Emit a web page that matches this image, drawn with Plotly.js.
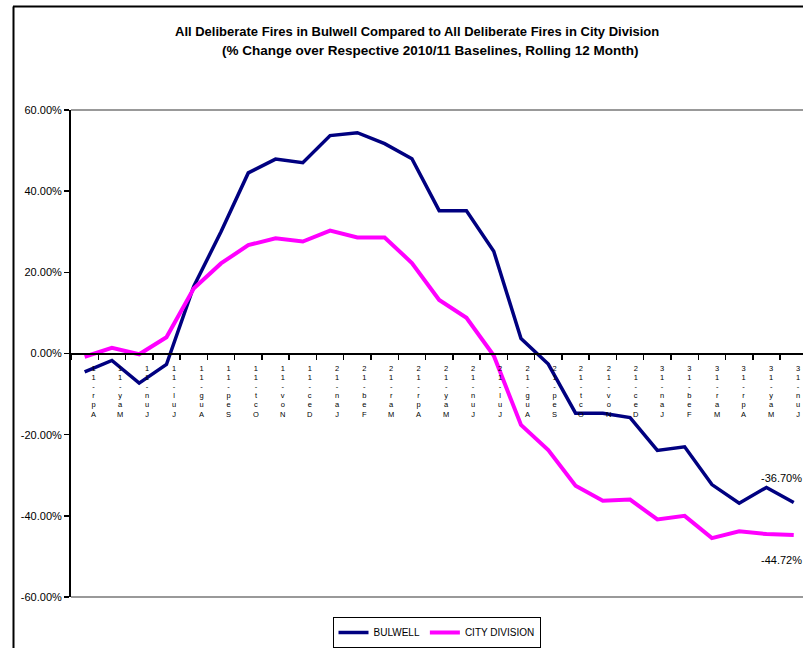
<!DOCTYPE html>
<html>
<head>
<meta charset="utf-8">
<script src="https://cdn.plot.ly/plotly-3.0.1.min.js"></script>
<style>
  html, body { margin: 0; padding: 0; background: #fff; }
  #chart { width: 803px; height: 648px; }
</style>
</head>
<body>
<div id="chart"></div>
<script>
// ---- Data ----
const months = ['Apr-11','May-11','Jun-11','Jul-11','Aug-11','Sep-11','Oct-11','Nov-11','Dec-11',
                'Jan-12','Feb-12','Mar-12','Apr-12','May-12','Jun-12','Jul-12','Aug-12','Sep-12',
                'Oct-12','Nov-12','Dec-12','Jan-13','Feb-13','Mar-13','Apr-13','May-13','Jun-13'];
const bulwell = [-4.5, -1.7, -7.3, -2.7, 16.5, 30.0, 44.5, 47.9, 47.0,
                 53.7, 54.4, 51.7, 48.0, 35.2, 35.2, 25.2, 3.7, -2.6,
                 -14.7, -14.7, -15.8, -23.9, -23.0, -32.3, -36.9, -33.0, -36.70];
const cityDivision = [-0.8, 1.4, -0.2, 4.0, 16.0, 22.2, 26.7, 28.4, 27.6,
                      30.3, 28.6, 28.6, 22.3, 13.2, 8.8, -0.5, -17.6, -23.8,
                      -32.6, -36.3, -36.0, -40.9, -40.0, -45.5, -43.8, -44.5, -44.72];
const yTickVals = [60, 40, 20, 0, -20, -40, -60];
const seriesNames = ['BULWELL', 'CITY DIVISION'];
const endLabels = ['-36.70%', '-44.72%'];
const titleLines = ['All Deliberate Fires in Bulwell Compared to All Deliberate Fires in City Division',
                    '(% Change over Respective 2010/11 Baselines, Rolling 12 Month)'];

// ---- Layout helpers (pixel geometry of the page) ----
const W = 803, H = 648, L = 71, T = 110, B = 51;
const plotW = W - L, plotH = H - T - B;
const px2paperX = p => (p - L) / plotW;
const px2paperY = p => (H - B - p) / plotH;
const FONT = 'Liberation Sans, Arial, sans-serif';

const x = months.map((_, i) => i);

const traces = [
  { x: x, y: bulwell, name: seriesNames[0], type: 'scatter', mode: 'lines',
    line: { color: '#000080', width: 3.5 } },
  { x: x, y: cityDivision, name: seriesNames[1], type: 'scatter', mode: 'lines',
    line: { color: '#FF00FF', width: 4 } }
];

const annotations = [];
// stacked-character category labels (upright characters, read bottom to top)
months.forEach((m, i) => {
  const stacked = m.split('').reverse()
    .map(c => '<span style="font-size:7.5px">' + c + '</span>').join('<br>');
  annotations.push({
    x: i, y: 0, xref: 'x', yref: 'y', text: stacked, showarrow: false,
    xanchor: 'center', yanchor: 'top', align: 'center',
    xshift: 8.5 - 4 * i / (months.length - 1),
    yshift: -8.5,
    font: { family: FONT, size: 7, color: '#000' }
  });
});
// end value labels
annotations.push({ x: months.length - 1, y: bulwell[bulwell.length - 1], xref: 'x', yref: 'y',
  text: endLabels[0], showarrow: false, xanchor: 'right', yanchor: 'middle', xshift: 10, yshift: 24,
  font: { family: FONT, size: 11, color: '#000' } });
annotations.push({ x: months.length - 1, y: cityDivision[cityDivision.length - 1], xref: 'x', yref: 'y',
  text: endLabels[1], showarrow: false, xanchor: 'right', yanchor: 'middle', xshift: 10, yshift: -25,
  font: { family: FONT, size: 11, color: '#000' } });
// title lines
annotations.push({ xref: 'paper', yref: 'paper', x: px2paperX(416.5), y: px2paperY(31.6),
  text: titleLines[0], showarrow: false, xanchor: 'center', yanchor: 'middle',
  font: { family: FONT, size: 13, color: '#000', weight: 'bold' } });
annotations.push({ xref: 'paper', yref: 'paper', x: px2paperX(429.5), y: px2paperY(51),
  text: titleLines[1], showarrow: false, xanchor: 'center', yanchor: 'middle',
  font: { family: FONT, size: 13.5, color: '#000', weight: 'bold' } });

const shapes = [
  // plot-area border (top and bottom)
  { type: 'line', xref: 'paper', yref: 'paper', x0: 0, x1: 1.02, y0: 1, y1: 1, line: { color: '#999', width: 2 } },
  { type: 'line', xref: 'paper', yref: 'paper', x0: 0, x1: 1.02, y0: 0, y1: 0, line: { color: '#999', width: 2 } },
  // chart-area border (top and left)
  { type: 'line', xref: 'paper', yref: 'paper', x0: px2paperX(13), x1: px2paperX(820), y0: px2paperY(6.5), y1: px2paperY(6.5), line: { color: '#000', width: 2 } },
  { type: 'line', xref: 'paper', yref: 'paper', x0: px2paperX(13.5), x1: px2paperX(13.5), y0: px2paperY(6.5), y1: px2paperY(670), line: { color: '#000', width: 2 } }
];

const layout = {
  width: W, height: H,
  margin: { l: L, r: 0, t: T, b: B, pad: 0 },
  paper_bgcolor: '#fff', plot_bgcolor: '#fff',
  showlegend: true,
  legend: {
    orientation: 'h', x: px2paperX(436.5), xanchor: 'center', y: px2paperY(617), yanchor: 'top',
    bordercolor: '#000', borderwidth: 1, bgcolor: '#fff',
    font: { family: FONT, size: 10, color: '#000' },
    itemwidth: 30, tracegroupgap: 0
  },
  xaxis: {
    type: 'linear', range: [-0.5, 26.34], anchor: 'free', position: 0.5,
    showgrid: false, zeroline: false, showline: true, linecolor: '#000', linewidth: 2,
    ticks: 'outside', ticklen: 5, tickwidth: 1.5, tickcolor: '#000',
    tickmode: 'array', tickvals: months.map((_, i) => i - 0.5).concat([months.length - 0.5]),
    showticklabels: false, fixedrange: true
  },
  yaxis: {
    range: [-60, 60], showgrid: false, zeroline: false,
    showline: true, linecolor: '#000', linewidth: 2,
    ticks: 'outside', ticklen: 5, tickwidth: 1.5, tickcolor: '#000',
    tickmode: 'array', tickvals: yTickVals, ticktext: yTickVals.map(v => v.toFixed(2) + '%'),
    tickfont: { family: FONT, size: 11, color: '#000' }, fixedrange: true
  },
  annotations: annotations,
  shapes: shapes
};

Plotly.newPlot('chart', traces, layout, { displayModeBar: false, staticPlot: true });
</script>
</body>
</html>
